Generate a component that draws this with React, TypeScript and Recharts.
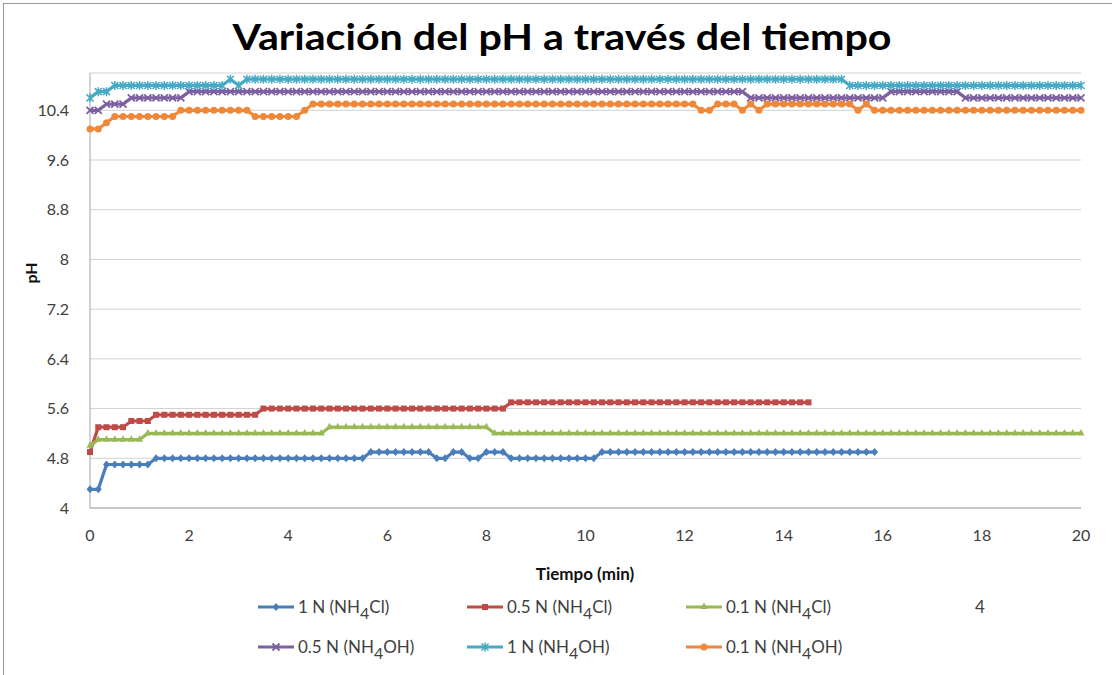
import { CartesianGrid, Line, LineChart, XAxis, YAxis } from "recharts";

// pH medido cada 10 s durante 20 min, seis disoluciones. Lecturas estimadas sobre la gráfica original.
const TIEMPO_S = [
  0, 10, 20, 30, 40, 50, 60, 70, 80, 90, 100, 110,
  120, 130, 140, 150, 160, 170, 180, 190, 200, 210, 220, 230,
  240, 250, 260, 270, 280, 290, 300, 310, 320, 330, 340, 350,
  360, 370, 380, 390, 400, 410, 420, 430, 440, 450, 460, 470,
  480, 490, 500, 510, 520, 530, 540, 550, 560, 570, 580, 590,
  600, 610, 620, 630, 640, 650, 660, 670, 680, 690, 700, 710,
  720, 730, 740, 750, 760, 770, 780, 790, 800, 810, 820, 830,
  840, 850, 860, 870, 880, 890, 900, 910, 920, 930, 940, 950,
  960, 970, 980, 990, 1000, 1010, 1020, 1030, 1040, 1050, 1060, 1070,
  1080, 1090, 1100, 1110, 1120, 1130, 1140, 1150, 1160, 1170, 1180, 1190,
  1200,
];

const PH_1N_CL = [
  4.3, 4.3, 4.7, 4.7, 4.7, 4.7, 4.7, 4.7, 4.8, 4.8, 4.8, 4.8,
  4.8, 4.8, 4.8, 4.8, 4.8, 4.8, 4.8, 4.8, 4.8, 4.8, 4.8, 4.8,
  4.8, 4.8, 4.8, 4.8, 4.8, 4.8, 4.8, 4.8, 4.8, 4.8, 4.9, 4.9,
  4.9, 4.9, 4.9, 4.9, 4.9, 4.9, 4.8, 4.8, 4.9, 4.9, 4.8, 4.8,
  4.9, 4.9, 4.9, 4.8, 4.8, 4.8, 4.8, 4.8, 4.8, 4.8, 4.8, 4.8,
  4.8, 4.8, 4.9, 4.9, 4.9, 4.9, 4.9, 4.9, 4.9, 4.9, 4.9, 4.9,
  4.9, 4.9, 4.9, 4.9, 4.9, 4.9, 4.9, 4.9, 4.9, 4.9, 4.9, 4.9,
  4.9, 4.9, 4.9, 4.9, 4.9, 4.9, 4.9, 4.9, 4.9, 4.9, 4.9, 4.9,
];

const PH_05N_CL = [
  4.9, 5.3, 5.3, 5.3, 5.3, 5.4, 5.4, 5.4, 5.5, 5.5, 5.5, 5.5,
  5.5, 5.5, 5.5, 5.5, 5.5, 5.5, 5.5, 5.5, 5.5, 5.6, 5.6, 5.6,
  5.6, 5.6, 5.6, 5.6, 5.6, 5.6, 5.6, 5.6, 5.6, 5.6, 5.6, 5.6,
  5.6, 5.6, 5.6, 5.6, 5.6, 5.6, 5.6, 5.6, 5.6, 5.6, 5.6, 5.6,
  5.6, 5.6, 5.6, 5.7, 5.7, 5.7, 5.7, 5.7, 5.7, 5.7, 5.7, 5.7,
  5.7, 5.7, 5.7, 5.7, 5.7, 5.7, 5.7, 5.7, 5.7, 5.7, 5.7, 5.7,
  5.7, 5.7, 5.7, 5.7, 5.7, 5.7, 5.7, 5.7, 5.7, 5.7, 5.7, 5.7,
  5.7, 5.7, 5.7, 5.7,
];

const PH_01N_CL = [
  5.0, 5.1, 5.1, 5.1, 5.1, 5.1, 5.1, 5.2, 5.2, 5.2, 5.2, 5.2,
  5.2, 5.2, 5.2, 5.2, 5.2, 5.2, 5.2, 5.2, 5.2, 5.2, 5.2, 5.2,
  5.2, 5.2, 5.2, 5.2, 5.2, 5.3, 5.3, 5.3, 5.3, 5.3, 5.3, 5.3,
  5.3, 5.3, 5.3, 5.3, 5.3, 5.3, 5.3, 5.3, 5.3, 5.3, 5.3, 5.3,
  5.3, 5.2, 5.2, 5.2, 5.2, 5.2, 5.2, 5.2, 5.2, 5.2, 5.2, 5.2,
  5.2, 5.2, 5.2, 5.2, 5.2, 5.2, 5.2, 5.2, 5.2, 5.2, 5.2, 5.2,
  5.2, 5.2, 5.2, 5.2, 5.2, 5.2, 5.2, 5.2, 5.2, 5.2, 5.2, 5.2,
  5.2, 5.2, 5.2, 5.2, 5.2, 5.2, 5.2, 5.2, 5.2, 5.2, 5.2, 5.2,
  5.2, 5.2, 5.2, 5.2, 5.2, 5.2, 5.2, 5.2, 5.2, 5.2, 5.2, 5.2,
  5.2, 5.2, 5.2, 5.2, 5.2, 5.2, 5.2, 5.2, 5.2, 5.2, 5.2, 5.2,
  5.2,
];

const PH_05N_OH = [
  10.4, 10.4, 10.5, 10.5, 10.5, 10.6, 10.6, 10.6, 10.6, 10.6, 10.6, 10.6,
  10.7, 10.7, 10.7, 10.7, 10.7, 10.7, 10.7, 10.7, 10.7, 10.7, 10.7, 10.7,
  10.7, 10.7, 10.7, 10.7, 10.7, 10.7, 10.7, 10.7, 10.7, 10.7, 10.7, 10.7,
  10.7, 10.7, 10.7, 10.7, 10.7, 10.7, 10.7, 10.7, 10.7, 10.7, 10.7, 10.7,
  10.7, 10.7, 10.7, 10.7, 10.7, 10.7, 10.7, 10.7, 10.7, 10.7, 10.7, 10.7,
  10.7, 10.7, 10.7, 10.7, 10.7, 10.7, 10.7, 10.7, 10.7, 10.7, 10.7, 10.7,
  10.7, 10.7, 10.7, 10.7, 10.7, 10.7, 10.7, 10.7, 10.6, 10.6, 10.6, 10.6,
  10.6, 10.6, 10.6, 10.6, 10.6, 10.6, 10.6, 10.6, 10.6, 10.6, 10.6, 10.6,
  10.6, 10.7, 10.7, 10.7, 10.7, 10.7, 10.7, 10.7, 10.7, 10.7, 10.6, 10.6,
  10.6, 10.6, 10.6, 10.6, 10.6, 10.6, 10.6, 10.6, 10.6, 10.6, 10.6, 10.6,
  10.6,
];

const PH_1N_OH = [
  10.6, 10.7, 10.7, 10.8, 10.8, 10.8, 10.8, 10.8, 10.8, 10.8, 10.8, 10.8,
  10.8, 10.8, 10.8, 10.8, 10.8, 10.9, 10.8, 10.9, 10.9, 10.9, 10.9, 10.9,
  10.9, 10.9, 10.9, 10.9, 10.9, 10.9, 10.9, 10.9, 10.9, 10.9, 10.9, 10.9,
  10.9, 10.9, 10.9, 10.9, 10.9, 10.9, 10.9, 10.9, 10.9, 10.9, 10.9, 10.9,
  10.9, 10.9, 10.9, 10.9, 10.9, 10.9, 10.9, 10.9, 10.9, 10.9, 10.9, 10.9,
  10.9, 10.9, 10.9, 10.9, 10.9, 10.9, 10.9, 10.9, 10.9, 10.9, 10.9, 10.9,
  10.9, 10.9, 10.9, 10.9, 10.9, 10.9, 10.9, 10.9, 10.9, 10.9, 10.9, 10.9,
  10.9, 10.9, 10.9, 10.9, 10.9, 10.9, 10.9, 10.9, 10.8, 10.8, 10.8, 10.8,
  10.8, 10.8, 10.8, 10.8, 10.8, 10.8, 10.8, 10.8, 10.8, 10.8, 10.8, 10.8,
  10.8, 10.8, 10.8, 10.8, 10.8, 10.8, 10.8, 10.8, 10.8, 10.8, 10.8, 10.8,
  10.8,
];

const PH_01N_OH = [
  10.1, 10.1, 10.2, 10.3, 10.3, 10.3, 10.3, 10.3, 10.3, 10.3, 10.3, 10.4,
  10.4, 10.4, 10.4, 10.4, 10.4, 10.4, 10.4, 10.4, 10.3, 10.3, 10.3, 10.3,
  10.3, 10.3, 10.4, 10.5, 10.5, 10.5, 10.5, 10.5, 10.5, 10.5, 10.5, 10.5,
  10.5, 10.5, 10.5, 10.5, 10.5, 10.5, 10.5, 10.5, 10.5, 10.5, 10.5, 10.5,
  10.5, 10.5, 10.5, 10.5, 10.5, 10.5, 10.5, 10.5, 10.5, 10.5, 10.5, 10.5,
  10.5, 10.5, 10.5, 10.5, 10.5, 10.5, 10.5, 10.5, 10.5, 10.5, 10.5, 10.5,
  10.5, 10.5, 10.4, 10.4, 10.5, 10.5, 10.5, 10.4, 10.5, 10.4, 10.5, 10.5,
  10.5, 10.5, 10.5, 10.5, 10.5, 10.5, 10.5, 10.5, 10.5, 10.4, 10.5, 10.4,
  10.4, 10.4, 10.4, 10.4, 10.4, 10.4, 10.4, 10.4, 10.4, 10.4, 10.4, 10.4,
  10.4, 10.4, 10.4, 10.4, 10.4, 10.4, 10.4, 10.4, 10.4, 10.4, 10.4, 10.4,
  10.4,
];

const X_TICKS = [0, 2, 4, 6, 8, 10, 12, 14, 16, 18, 20];
const Y_TICKS = [4, 4.8, 5.6, 6.4, 7.2, 8, 8.8, 9.6, 10.4];

type Marker = "diamond" | "square" | "triangle" | "x" | "star" | "circle";
type Serie = { key: string; conc: string; sal: string; color: string; marker: Marker; values: number[] };

// orden = orden de la leyenda (3 por fila)
const SERIES: Serie[] = [
  { key: "n1cl", conc: "1 N", sal: "Cl", color: "#4A7EBB", marker: "diamond", values: PH_1N_CL },
  { key: "n05cl", conc: "0.5 N", sal: "Cl", color: "#BE4B48", marker: "square", values: PH_05N_CL },
  { key: "n01cl", conc: "0.1 N", sal: "Cl", color: "#98B954", marker: "triangle", values: PH_01N_CL },
  { key: "n05oh", conc: "0.5 N", sal: "OH", color: "#7D60A0", marker: "x", values: PH_05N_OH },
  { key: "n1oh", conc: "1 N", sal: "OH", color: "#46AAC5", marker: "star", values: PH_1N_OH },
  { key: "n01oh", conc: "0.1 N", sal: "OH", color: "#F0883A", marker: "circle", values: PH_01N_OH },
];

const FONT = "Lato, 'Noto Sans', sans-serif";
const TXT = "#404040";

const data = TIEMPO_S.map((s, i) => {
  const row: Record<string, number | undefined> = { t: s / 60 };
  SERIES.forEach((se) => { row[se.key] = se.values[i]; });
  return row;
});

function drawMarker(kind: Marker, color: string, cx: number, cy: number, key?: string) {
  switch (kind) {
    case "diamond":
      return <path key={key} d={`M${cx},${cy - 4}L${cx + 3.5},${cy}L${cx},${cy + 4}L${cx - 3.5},${cy}Z`} fill={color} />;
    case "square":
      return <rect key={key} x={cx - 3} y={cy - 3} width={6} height={6} fill={color} />;
    case "triangle":
      return <path key={key} d={`M${cx},${cy - 4.5}L${cx + 3.5},${cy + 2}L${cx - 3.5},${cy + 2}Z`} fill={color} />;
    case "x":
      return <path key={key} d={`M${cx - 3.5},${cy - 3.5}L${cx + 3.5},${cy + 3.5}M${cx - 3.5},${cy + 3.5}L${cx + 3.5},${cy - 3.5}`} stroke={color} strokeWidth={1.8} />;
    case "star":
      return <path key={key} d={`M${cx - 3.5},${cy - 3.5}L${cx + 3.5},${cy + 3.5}M${cx - 3.5},${cy + 3.5}L${cx + 3.5},${cy - 3.5}M${cx},${cy - 4.5}L${cx},${cy + 4.5}`} stroke={color} strokeWidth={1.5} />;
    default:
      return <circle key={key} cx={cx} cy={cy} r={3.5} fill={color} />;
  }
}

const dotFor = (s: Serie) => (p: any) => {
  const k = `${s.key}-${p.index}`;
  if (p.cx == null || p.cy == null || p.value == null) return <g key={k} />;
  return drawMarker(s.marker, s.color, p.cx, p.cy, k);
};

const LEG_COLS = [258, 467, 686];
const LEG_ROWS = [596, 636];

export default function App() {
  return (
    <div style={{ position: "absolute", left: 0, top: 0, width: 1112, height: 675, overflow: "hidden", background: "#fff" }}>
      <div style={{ position: "absolute", left: 3, top: 3, width: 1200, height: 800, borderLeft: "1.5px solid #9a9a9a", borderTop: "1.5px solid #9a9a9a" }} />
      <LineChart width={1112} height={675} data={data} margin={{ top: 73, right: 31, left: 0, bottom: 127 }}>
        <CartesianGrid vertical={false} stroke="#d0d0d0" />
        <XAxis dataKey="t" type="number" domain={[0, 20]} ticks={X_TICKS} interval={0} height={40}
               axisLine={{ stroke: "#a6a6a6" }} tickLine={false} tickSize={0} tickMargin={22}
               tick={{ fill: TXT, fontSize: 16, fontFamily: FONT }} />
        <YAxis type="number" domain={[4, 11]} ticks={Y_TICKS} interval={0} width={90} allowDataOverflow
               axisLine={{ stroke: "#a6a6a6" }} tickLine={false} tickSize={0} tickMargin={21}
               tick={{ fill: TXT, fontSize: 16, fontFamily: FONT }} />
        {SERIES.map((s) => (
          <Line key={s.key} dataKey={s.key} type="linear" stroke={s.color} strokeWidth={3.2}
                dot={dotFor(s)} activeDot={false} connectNulls={false} isAnimationActive={false} />
        ))}
        <text x={562} y={50} textAnchor="middle" fontFamily={FONT} fontWeight={700} fontSize={37}
              fill="#000" textLength={659} lengthAdjust="spacingAndGlyphs">Variación del pH a través del tiempo</text>
        <text x={585} y={580} textAnchor="middle" fontFamily={FONT} fontWeight={700} fontSize={17} fill="#111">Tiempo (min)</text>
        <text x={37} y={273} textAnchor="middle" fontFamily={FONT} fontWeight={700} fontSize={16} fill="#111"
              transform="rotate(-90 37 273)">pH</text>
      </LineChart>
      {SERIES.map((s, i) => (
        <div key={s.key} style={{ position: "absolute", left: LEG_COLS[i % 3], top: LEG_ROWS[Math.floor(i / 3)],
                                  display: "flex", alignItems: "center", fontFamily: FONT, fontSize: 17, color: TXT, whiteSpace: "nowrap" }}>
          <svg width={36} height={14} style={{ marginRight: 4 }}>
            <line x1={0} y1={7} x2={36} y2={7} stroke={s.color} strokeWidth={3.2} />
            {drawMarker(s.marker, s.color, 18, 7)}
          </svg>
          <span>{s.conc} (NH<span style={{ position: "relative", top: 6, fontSize: 16 }}>4</span>{s.sal})</span>
        </div>
      ))}
      <div style={{ position: "absolute", left: 975, top: 596, fontFamily: FONT, fontSize: 17, color: TXT }}>4</div>
    </div>
  );
}
